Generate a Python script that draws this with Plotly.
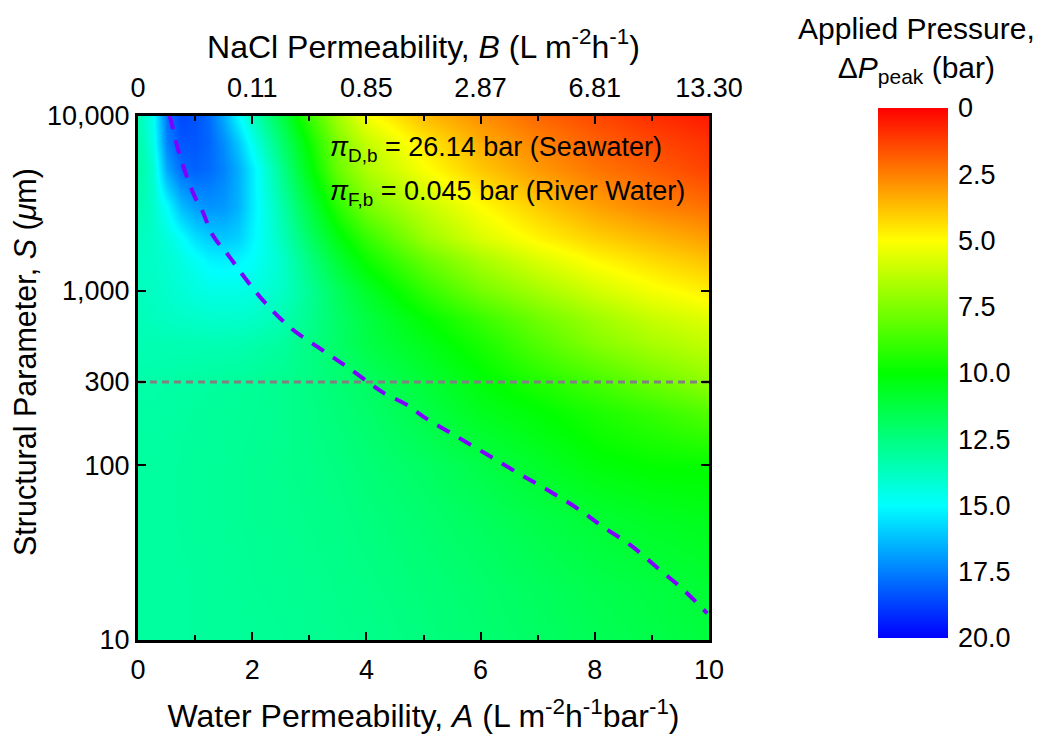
import plotly.graph_objects as go

# ---------------- data ----------------
# Water permeability A (L m-2 h-1 bar-1), grid columns
A_vals = [0, 0.25, 0.5, 0.75, 1, 1.25, 1.5, 1.75, 2, 2.5, 3, 3.5, 4, 5, 6, 7, 8, 9, 10]
# Structural parameter S (um), grid rows
S_vals = [10, 20, 50, 100, 200, 300, 500, 700, 1000, 1500, 2000, 3000, 5000, 7000, 10000]

# Peak applied pressure (bar), one row per S value
dP_S10 = [13.1, 13.1, 13.1, 13.1, 13.05, 13.0, 13.0, 13.0, 12.95, 12.9, 12.85, 12.75, 12.7, 12.45, 12.2, 11.95, 11.7, 11.45, 11.2]
dP_S20 = [13.1, 13.1, 13.1, 13.1, 13.05, 13.0, 13.0, 12.95, 12.9, 12.85, 12.8, 12.7, 12.6, 12.35, 12.1, 11.8, 11.5, 11.25, 11.0]
dP_S50 = [13.1, 13.1, 13.1, 13.05, 13.0, 13.0, 12.95, 12.9, 12.85, 12.8, 12.7, 12.6, 12.45, 12.15, 11.8, 11.4, 11.0, 10.7, 10.5]
dP_S100 = [13.1, 13.1, 13.1, 13.05, 13.0, 13.0, 12.95, 12.9, 12.85, 12.75, 12.65, 12.5, 12.3, 11.9, 11.4, 10.8, 10.2, 9.95, 9.9]
dP_S200 = [13.2, 13.2, 13.15, 13.1, 13.05, 13.0, 13.0, 12.95, 12.9, 12.8, 12.6, 12.35, 12.1, 11.4, 10.6, 10.1, 9.5, 9.0, 8.4]
dP_S300 = [13.3, 13.3, 13.25, 13.2, 13.15, 13.1, 13.05, 13.0, 12.95, 12.8, 12.55, 12.25, 11.9, 11.1, 10.2, 9.4, 8.7, 7.9, 7.2]
dP_S500 = [13.5, 13.5, 13.5, 13.5, 13.5, 13.5, 13.5, 13.45, 13.35, 13.1, 12.6, 12.0, 11.4, 10.5, 9.5, 8.4, 7.4, 6.7, 6.2]
dP_S700 = [13.6, 13.7, 13.8, 13.9, 13.95, 14.0, 14.0, 14.0, 13.9, 13.5, 12.8, 12.0, 11.3, 10.0, 8.9, 7.8, 6.9, 6.1, 5.6]
dP_S1000 = [13.7, 13.8, 14.0, 14.2, 14.35, 14.5, 14.5, 14.5, 14.4, 13.9, 12.9, 11.8, 10.8, 9.1, 7.7, 6.8, 5.9, 5.2, 4.7]
dP_S1500 = [13.8, 13.9, 14.1, 14.4, 14.8, 15.2, 15.3, 15.2, 14.9, 14.0, 12.5, 11.0, 9.8, 8.0, 6.7, 5.7, 4.9, 4.3, 3.8]
dP_S2000 = [13.7, 13.9, 14.3, 14.9, 15.6, 16.0, 16.1, 15.9, 15.2, 13.7, 12.0, 10.3, 9.0, 7.0, 5.7, 4.8, 4.1, 3.6, 3.1]
dP_S3000 = [13.4, 13.9, 15.0, 16.3, 16.9, 17.1, 17.0, 16.5, 15.4, 13.4, 11.3, 9.2, 7.7, 6.2, 5.0, 4.0, 3.2, 2.6, 2.2]
dP_S5000 = [13.2, 14.0, 16.8, 17.9, 18.1, 17.9, 17.4, 16.6, 15.4, 12.8, 10.3, 7.9, 6.6, 5.1, 3.9, 3.0, 2.3, 1.8, 1.3]
dP_S7000 = [13.3, 14.4, 17.5, 18.3, 18.3, 18.0, 17.2, 16.1, 14.7, 12.2, 9.8, 7.5, 6.2, 4.6, 3.4, 2.6, 1.9, 1.4, 1.0]
dP_S10000 = [13.5, 14.6, 17.8, 18.6, 18.4, 17.9, 16.6, 15.1, 13.8, 11.4, 8.9, 6.8, 5.2, 3.7, 2.8, 2.0, 1.4, 0.9, 0.5]

dP_rows = [dP_S10, dP_S20, dP_S50, dP_S100, dP_S200, dP_S300, dP_S500, dP_S700,
           dP_S1000, dP_S1500, dP_S2000, dP_S3000, dP_S5000, dP_S7000, dP_S10000]

# Optimal (dashed) curve
opt_A = [0.55, 0.57, 0.70, 0.87, 1.01, 1.11, 1.31, 1.58, 1.88, 2.21, 2.68, 3.22, 3.69, 4.09, 4.30,
         4.70, 5.03, 5.57, 6.10, 6.64, 7.18, 7.72, 8.12, 8.62, 9.09, 9.53, 9.97]
opt_S = [10000, 9600, 6470, 4360, 3360, 2950, 2075, 1597, 1175, 865, 610, 459, 361, 290, 260,
         223, 187, 147, 116, 91, 72, 56, 45, 35, 26, 19.7, 14.2]

# Reference structural parameter (dotted line)
S_ref = 300

# Axis ticks
x_ticks = [0, 2, 4, 6, 8, 10]
x_minor = [1, 3, 5, 7, 9]
B_ticktext = ["0", "0.11", "0.85", "2.87", "6.81", "13.30"]
y_ticks = [10, 100, 300, 1000, 10000]
y_ticktext = ["10", "100", "300", "1,000", "10,000"]
cb_vals = [0, 2.5, 5.0, 7.5, 10.0, 12.5, 15.0, 17.5, 20.0]
cb_text = ["0", "2.5", "5.0", "7.5", "10.0", "12.5", "15.0", "17.5", "20.0"]

# ---------------- figure ----------------
FONT = "Liberation Sans, Arial, Helvetica, sans-serif"
OFF = 8                       # default page body margin around the figure
W, H = 1055 - 2 * OFF, 742 - 2 * OFF
PX0, PY0, PW, PH = 138, 116, 571, 524          # plot area in window pixels
ML, MT = PX0 - OFF, PY0 - OFF
MR, MB = W - ML - PW, H - MT - PH
TICK_SIZE = 27
TITLE_SIZE = 32


def px(xw):
    return (xw - PX0) / PW


def py(yw):
    return 1 - (yw - PY0) / PH


# colorbar runs 0 (top) -> 20 (bottom): plot the negated pressure
z_neg = [[-v for v in row] for row in dP_rows]
rainbow = [[0.0, "#0000FF"], [0.25, "#00FFFF"], [0.5, "#00FF00"], [0.75, "#FFFF00"], [1.0, "#FF0000"]]

fig = go.Figure()
fig.add_trace(go.Heatmap(
    x=A_vals, y=S_vals, z=z_neg, customdata=dP_rows,
    zmin=-20, zmax=0, zsmooth="best", colorscale=rainbow,
    hovertemplate="A=%{x}<br>S=%{y}<br>ΔP=%{customdata} bar<extra></extra>",
    colorbar=dict(
        x=px(878), xanchor="left",
        y=py(108), yanchor="top",
        len=530, lenmode="pixels",
        thickness=70, thicknessmode="pixels",
        xpad=0, ypad=0, outlinewidth=0,
        tickmode="array",
        tickvals=[-v for v in cb_vals], ticktext=cb_text,
        ticks="outside", ticklen=5, tickcolor="rgba(0,0,0,0)",
        tickfont=dict(family=FONT, size=TICK_SIZE, color="black"),
    ),
))

# dotted reference line at S = 300 (drawn on the top axis so that it exists)
fig.add_trace(go.Scatter(
    x=[A_vals[0], A_vals[-1]], y=[S_ref, S_ref], mode="lines",
    line=dict(color="#808080", width=3, dash="7px,5px"),
    xaxis="x2", yaxis="y", hoverinfo="skip", showlegend=False,
))

# dashed optimal curve
fig.add_trace(go.Scatter(
    x=opt_A, y=opt_S, mode="lines",
    line=dict(color="#7F00FF", width=4, dash="14px,11px", shape="spline"),
    showlegend=False,
))

axis_common = dict(
    showline=True, linecolor="black", linewidth=3,
    ticks="inside", ticklen=8, tickwidth=2, tickcolor="black",
    showgrid=False, zeroline=False, automargin=False,
    tickfont=dict(family=FONT, size=TICK_SIZE, color="black"),
)

fig.update_layout(
    template="none",
    width=W, height=H, autosize=False,
    margin=dict(l=ML, r=MR, t=MT, b=MB, pad=0),
    paper_bgcolor="white", plot_bgcolor="white",
    font=dict(family=FONT, color="black"),
    xaxis=dict(
        **axis_common, range=[0, 10], mirror=True,
        tickmode="array", tickvals=x_ticks,
        minor=dict(tickmode="array", tickvals=x_minor, ticks="inside", ticklen=5,
                   tickwidth=2, tickcolor="black"),
        ticklabelstandoff=4,
        title=dict(text="Water Permeability, <i>A</i> (L m<sup>-2</sup>h<sup>-1</sup>bar<sup>-1</sup>)",
                   font=dict(family=FONT, size=TITLE_SIZE, color="black"), standoff=23),
    ),
    xaxis2=dict(
        **axis_common, range=[0, 10], overlaying="x", side="top", anchor="y",
        tickmode="array", tickvals=x_ticks, ticktext=B_ticktext,
        minor=dict(tickmode="array", tickvals=x_minor, ticks="inside", ticklen=5,
                   tickwidth=2, tickcolor="black"),
        ticklabelstandoff=5,
        title=dict(text="NaCl Permeability, <i>B</i> (L m<sup>-2</sup>h<sup>-1</sup>)",
                   font=dict(family=FONT, size=TITLE_SIZE, color="black"), standoff=6),
    ),
    yaxis=dict(
        **axis_common, type="log", range=[1, 4], mirror="ticks",
        tickmode="array", tickvals=y_ticks, ticktext=y_ticktext,
        ticklabelstandoff=0,
    ),
    annotations=[
        dict(text="Structural Parameter, <i>S</i> (<i>μ</i>m)", textangle=-90,
             xref="paper", yref="paper", x=px(25), y=py(362),
             xanchor="center", yanchor="middle", showarrow=False,
             font=dict(family=FONT, size=30.5, color="black")),
        dict(text="<i>π</i><sub>D,b</sub> = 26.14 bar (Seawater)",
             xref="x", yref="paper", x=3.33, y=py(149),
             xanchor="left", yanchor="middle", showarrow=False,
             font=dict(family=FONT, size=27, color="black")),
        dict(text="<i>π</i><sub>F,b</sub> = 0.045 bar (River Water)",
             xref="x", yref="paper", x=3.33, y=py(193),
             xanchor="left", yanchor="middle", showarrow=False,
             font=dict(family=FONT, size=27, color="black")),
        dict(text="Applied Pressure,<br>Δ<i>P</i><sub>peak</sub> (bar)",
             xref="paper", yref="paper", x=px(916), y=py(50),
             xanchor="center", yanchor="middle", showarrow=False,
             font=dict(family=FONT, size=30, color="black")),
    ],
)

fig.write_html("out.html")
